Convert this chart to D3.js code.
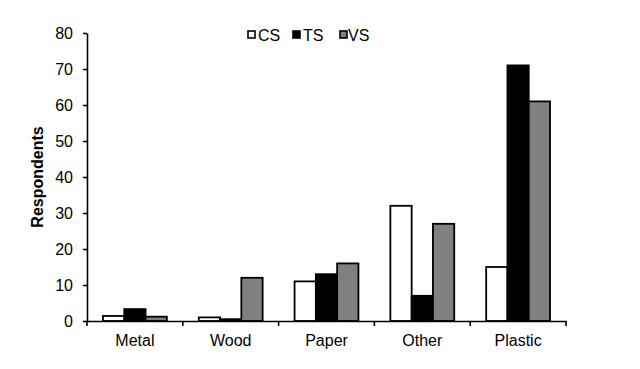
<!DOCTYPE html>
<html><head><meta charset="utf-8">
<script src="https://cdn.jsdelivr.net/npm/d3@7"></script>
<style>body{margin:0;background:#fff}svg{display:block}</style>
</head><body>
<script>
const categories = ["Metal","Wood","Paper","Other","Plastic"];
const seriesNames = ["CS","TS","VS"];
const CS = [1.4, 1, 11, 32, 15];
const TS = [3.3, 0.5, 13, 7, 71];
const VS = [1.2, 12, 16, 27, 61];
const yTicks = [0,10,20,30,40,50,60,70,80];
const colors = ["#ffffff","#000000","#808080"];

const W=640,H=369;
const svg=d3.select("body").append("svg").attr("width",W).attr("height",H);
const x0=87,x1=566,yb=321,yt=33;
const x=d3.scaleBand().domain(categories).range([x0,x1]).paddingInner(0).paddingOuter(0);
const xs=d3.scaleBand().domain(seriesNames).range([0,x.bandwidth()]).paddingInner(0).paddingOuter(0.75);
const y=d3.scaleLinear().domain([0,80]).range([yb,yt]);
const series=[CS,TS,VS];
const font="Liberation Sans, Arial, sans-serif";

const g=svg.append("g");
series.forEach((vals,si)=>{
  g.selectAll(null).data(vals).enter().append("rect")
    .attr("x",(d,i)=>x(categories[i])+xs(seriesNames[si]))
    .attr("width",xs.bandwidth())
    .attr("y",d=>y(d))
    .attr("height",d=>yb-y(d))
    .attr("fill",colors[si]).attr("stroke","#000").attr("stroke-width",1.8);
});

// y axis
const ya=svg.append("g").attr("transform",`translate(${x0},0)`)
  .call(d3.axisLeft(y).tickValues(yTicks).tickSize(4).tickPadding(10).tickSizeOuter(0));
ya.attr("font-family",font).attr("font-size",16);
ya.select(".domain").attr("stroke","#000").attr("stroke-width",1.6);
ya.selectAll(".tick line").attr("stroke-width",1.6);
ya.selectAll("text").attr("fill","#000");

// x axis
const xa=svg.append("g").attr("transform",`translate(0,${yb})`)
  .call(d3.axisBottom(x).tickSize(0).tickPadding(14));
xa.attr("font-family",font).attr("font-size",16);
xa.select(".domain").attr("stroke","#000").attr("stroke-width",1.6);
xa.selectAll("text").attr("fill","#000");
// category separator ticks
const seps=categories.map(c=>x(c)).concat([x1]);
xa.selectAll(".sep").data(seps).enter().append("line")
  .attr("x1",d=>d).attr("x2",d=>d).attr("y1",0).attr("y2",5)
  .attr("stroke","#000").attr("stroke-width",1.6);

// y label
svg.append("text").attr("transform",`translate(43,177) rotate(-90)`)
  .attr("text-anchor","middle").attr("font-family",font).attr("font-size",16).attr("font-weight","bold")
  .text("Respondents");

// legend
const legX=[248,293,340];
const legT=[258,303,348];
seriesNames.forEach((n,i)=>{
  svg.append("rect").attr("x",legX[i]).attr("y",31).attr("width",7).attr("height",7)
    .attr("fill",colors[i]).attr("stroke","#000").attr("stroke-width",1.6);
  svg.append("text").attr("x",legT[i]).attr("y",41).attr("font-family",font).attr("font-size",16)
    .text(n);
});
</script>
</body></html>
